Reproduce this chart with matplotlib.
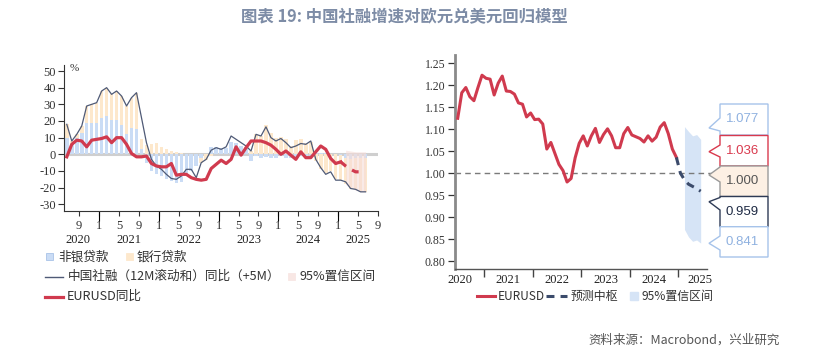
import matplotlib.pyplot as plt
import numpy as np
from matplotlib.patches import Polygon, Rectangle
from matplotlib.lines import Line2D

plt.rcParams['font.family'] = ['Noto Sans CJK SC', 'DejaVu Sans']

# ---- 左图数据: 2020-06 起按月 ----
sf_yoy = [18, 8, 12, 17, 29, 30, 31, 38, 40, 36, 38, 35, 29, 34, 37,
          22, 7, -3, -7, -9, -12, -14.5, -15, -13, -9, -9, -14, -5, -3, 2.5,
          4, 3, 4.5, 11, 9, 7, 5, 2, 12, 11, 16.5, 10, 8, 9.5, 7,
          4, 5, 6.5, 6, 8, -3, -8, -12, -10.5, -15.5, -15.5, -16.5, -20.5, -21, -22.5, -22.5]
nonbank = [10, 6, 10, 12.5, 19, 18.5, 19, 21.5, 23, 20.5, 20.5, 17.5, 12, 15.5, 15,
           3, -5, -10, -12, -13, -15, -16, -17, -16.5, -13, -10, -7, -2, 0, 4.5,
           4.5, 4, 3.5, 7.5, 7, 5, 3.5, -4, -1, -2, -1.5, -2.5, -2, -1, -2,
           -2.5, -2, -1, -1, -0.5, 1, 0.5, 0.5, 0, 0, -0.5, -2, -3, -2.5, -2, -2]
bank = [8, 2, 2, 4.5, 10, 11.5, 12, 16.5, 17, 15.5, 17.5, 17.5, 17, 18.5, 22,
        6, 5.5, 6, 7, 4.5, 3, 2, 1.5, 0.5, 0, 0, 0, -3, -3.5, -1,
        0, 0, 0.5, 0, 0, 0, 1, 2, 12, 11, 17.5, 13, 10, 10.5, 9,
        5, 8.5, 9, 6.5, 7.5, -4, -9, -11, -10, -15, -15, -16, -18, -19, -20.5, -20.5]
eur_yoy = [-1.5, 6, 8.5, 8, 4.5, 8.5, 9, 9.5, 10.5, 7, 10, 10, 6, 0.5, -1.5,
           -1.5, -1, -5.5, -7, -7.5, -7.5, -5.5, -12.5, -12, -12, -14, -15, -15.5, -15, -8.5,
           -6, -3.5, -5.5, -3, 4.5, -0.5, 4, 8, 8, 8, 7, 5.5, 3, 0, 2,
           -0.5, -3, 1.5, -2, -2, 1.5, 5, 3, -2.5, -5.5, -4.5]
eur_yoy_fc = [-4.5, -7, -9, -10.5, -10.5, -10.5]
ci_left_up = [2.5, 2, 1.5, 1.5, 1.5]
ci_left_lo = [-18, -20, -21.5, -22.5, -22.5]

# ---- 右图数据 ----
eurusd = [1.125, 1.183, 1.195, 1.174, 1.165, 1.195, 1.223, 1.216, 1.214, 1.178, 1.205,
          1.221, 1.187, 1.186, 1.180, 1.160, 1.157, 1.128, 1.137, 1.122, 1.123, 1.112,
          1.055, 1.070, 1.045, 1.020, 1.006, 0.980, 0.988, 1.035, 1.068, 1.085, 1.062,
          1.085, 1.102, 1.070, 1.088, 1.101, 1.085, 1.058, 1.058, 1.090, 1.104, 1.087,
          1.083, 1.079, 1.071, 1.085, 1.073, 1.082, 1.105, 1.115, 1.090, 1.055, 1.036]
eurusd_fc = [1.036, 1.000, 0.985, 0.975, 0.970, 0.965, 0.959]
ci_up = [1.106, 1.095, 1.085, 1.088, 1.077]
ci_lo = [0.872, 0.855, 0.845, 0.848, 0.841]
ref_level = 1.000

month_ticks = [8, 12, 16, 20, 24, 28, 32, 36, 40, 44, 48, 52, 56, 60, 64, 68]
month_labels = ['9', '1', '5', '9', '1', '5', '9', '1', '5', '9', '1', '5', '9', '1', '5', '9']
years = ['2020', '2021', '2022', '2023', '2024', '2025']

serif = 'Liberation Serif'
red = '#d03a4e'
navy = '#3b4b6b'

fig = plt.figure(figsize=(8.14, 3.54), dpi=100)

# ================= 左图 =================
ax1 = fig.add_axes([64.3 / 814, 1 - 211 / 354, 313.7 / 814, 146 / 354])
m = 5.5 + np.arange(len(sf_yoy))
nb = np.array(nonbank)
bk = np.array(bank)
bottom_bk = np.where(np.sign(nb) == np.sign(bk), nb, 0)
ax1.axhline(0, color='#cfcfcf', lw=2.2, zorder=1)
ax1.bar(m, nb, width=0.72, color='#cadcf5', zorder=2)
ax1.bar(m, bk, width=0.72, bottom=bottom_bk, color='#fde8cc', zorder=2)
mf = m[-5:]
ax1.fill_between(mf, ci_left_lo, ci_left_up, color='#f6dcd8', alpha=0.6, lw=0, zorder=2.5)
ax1.plot(m, sf_yoy, color='#4f5a76', lw=0.9, zorder=3)
ax1.plot(m[:len(eur_yoy)], eur_yoy, color=red, lw=2.3, zorder=4)
ax1.plot(m[len(eur_yoy) - 1:], eur_yoy_fc, color=red, lw=2.3, dashes=(2.2, 2.2), zorder=4)

ax1.set_xlim(5, 68)
ax1.set_ylim(-34, 53.6)
ax1.set_yticks(range(-30, 51, 10))
ax1.set_yticklabels([str(v) for v in range(-30, 51, 10)], family=serif, fontsize=9)
ax1.set_xticks(month_ticks)
ax1.set_xticklabels(month_labels, family=serif, fontsize=9)
ax1.xaxis.remove_overlapping_locs = False
ax1.set_xticks([12, 24, 36, 48, 60], minor=True)
ax1.tick_params(axis='x', which='major', length=3.5, width=0.8, pad=3, colors='#333')
ax1.tick_params(axis='x', which='minor', length=7, width=0.8)
ax1.tick_params(axis='y', length=4, width=0.8, pad=2, colors='#333')
for s in ['top', 'right']:
    ax1.spines[s].set_visible(False)
for s in ['left', 'bottom']:
    ax1.spines[s].set_color('#333')
    ax1.spines[s].set_linewidth(0.8)
for yr, xp in zip(years, [7.8, 18, 30, 42, 54, 64]):
    ax1.text(xp, -0.2, yr, transform=ax1.get_xaxis_transform(), ha='center', va='center',
             family=serif, fontsize=9, color='#222')
ax1.text(6, 51.5, '%', family=serif, fontsize=8, color='#333', va='center')

# ================= 右图 =================
ax2 = fig.add_axes([455 / 814, 1 - 269 / 354, 252 / 814, 214 / 354])
r = 5.5 + np.arange(len(eurusd))
rf = r[-1] + np.arange(len(eurusd_fc))
ax2.fill_between(rf[2:], ci_lo, ci_up, color='#d6e4f6', lw=0, zorder=1)
ax2.axhline(ref_level, xmax=1.015, color='#7a7a7a', lw=1, dashes=(4, 3), clip_on=False, zorder=2)
ax2.plot(r, eurusd, color=red, lw=2.2, zorder=3)
ax2.plot(rf, eurusd_fc, color=navy, lw=2.2, dashes=(2.6, 2.0), zorder=3)
ax2.set_xlim(4.83, 67.06)
ax2.set_ylim(0.782, 1.269)
yt = np.arange(0.80, 1.2501, 0.05)
ax2.set_yticks(yt)
ax2.set_yticklabels(['%.2f' % v for v in yt], family=serif, fontsize=8.5)
ax2.set_xticks([12, 24, 36, 48, 60])
ax2.set_xticklabels([])
ax2.tick_params(axis='x', length=6, width=1, colors='#444')
ax2.tick_params(axis='y', length=5, width=0.9, pad=2, colors='#333')
for s in ['top', 'right']:
    ax2.spines[s].set_visible(False)
ax2.spines['left'].set_color('#8a8a8a')
ax2.spines['left'].set_linewidth(2)
ax2.spines['bottom'].set_color('#555')
ax2.spines['bottom'].set_linewidth(1)
for yr, xp in zip(years, [6, 18, 30, 42, 54, 65.2]):
    ax2.text(xp, -11 / 214, yr, transform=ax2.get_xaxis_transform(), ha='center', va='center',
             family=serif, fontsize=9, color='#222')

# ================= 叠加层: 图例/标注/标题 =================
ov = fig.add_axes([0, 0, 1, 1])
ov.set_xlim(0, 814)
ov.set_ylim(354, 0)
ov.axis('off')

fs_leg = 9.1
# 左图例
ov.add_patch(Rectangle((46, 253), 7, 7, facecolor='#cadcf5', edgecolor='#a9c3e8', lw=0.6))
ov.text(58, 256.7, '非银贷款', fontsize=fs_leg, va='center', color='#333')
ov.add_patch(Rectangle((126, 253), 7, 7, facecolor='#fde8cc', edgecolor='#fde8cc', lw=0.6))
ov.text(137, 256.7, '银行贷款', fontsize=fs_leg, va='center', color='#333')
ov.add_line(Line2D([45, 63], [276.7, 276.7], color='#4f5a76', lw=1))
ov.text(68, 276.7, '中国社融（12M滚动和）同比（+5M）', fontsize=fs_leg, va='center', color='#333')
ov.add_patch(Rectangle((288, 273), 7, 7, facecolor='#f8e7e4', edgecolor='#f8e7e4', lw=0.6))
ov.text(300, 276.7, '95%置信区间', fontsize=fs_leg, va='center', color='#333')
ov.add_line(Line2D([45, 63], [296.7, 296.7], color=red, lw=2.3))
ov.text(67, 296.7, 'EURUSD同比', fontsize=fs_leg, va='center', color='#333')

# 右图例
ov.add_line(Line2D([477, 495], [296, 296], color=red, lw=2.2))
ov.text(498, 296, 'EURUSD', fontsize=8.6, va='center', color='#333')
ov.add_line(Line2D([546, 567], [296, 296], color=navy, lw=2.2, dashes=(2.6, 2.0)))
ov.text(571, 296, '预测中枢', fontsize=8.6, va='center', color='#333')
ov.add_patch(Rectangle((630, 292), 8, 8, facecolor='#d6e4f6', edgecolor='#d6e4f6'))
ov.text(642, 296, '95%置信区间', fontsize=8.6, va='center', color='#333')

# 右侧数值标注
labels = [
    (ci_up[-1], 104, 135, 128, 118, 131, 'white', '#a6c3ea', '#8fb1e0'),
    (eurusd[-1], 135.5, 166, 151.7, 145, 157, 'white', '#d9394d', '#d9394d'),
    (ref_level, 166, 196.5, 175, 167, 182, '#fdf0e4', '#9a9a9a', '#555555'),
    (eurusd_fc[-1], 196.5, 226.7, 201.7, 197.5, 210, 'white', '#2e3b56', '#1e2a44'),
    (ci_lo[-1], 226.7, 257, 243.3, 236, 250, 'white', '#a6c3ea', '#8fb1e0'),
]
x0, x1, tipx = 720, 768, 709
for val, top, bot, tipy, nt, nbm, fc, ec, tc in labels:
    pts = [(x0, top), (x1, top), (x1, bot), (x0, bot), (x0, nbm), (tipx, tipy), (x0, nt)]
    ov.add_patch(Polygon(pts, closed=True, facecolor=fc, edgecolor=ec, lw=1))
    ov.text(x0 + 6, (top + bot) / 2, '%.3f' % val, fontsize=9.5, va='center', ha='left',
            color=tc, family='Liberation Sans')

fig.text(0.497, 1 - 17 / 354, '图表 19: 中国社融增速对欧元兑美元回归模型', ha='center', va='center',
         fontsize=11.8, weight='bold', color='#7d8ca6')
fig.text(780 / 814, 1 - 340 / 354, '资料来源：Macrobond，兴业研究', ha='right', va='center',
         fontsize=9, color='#555')

fig.savefig('out.png', dpi=100)
